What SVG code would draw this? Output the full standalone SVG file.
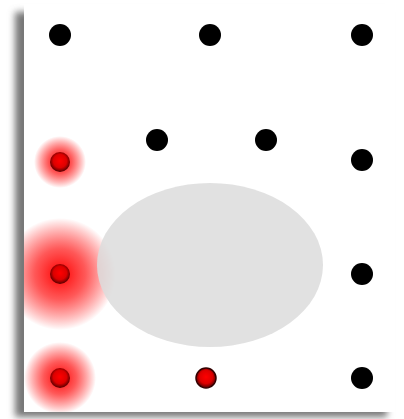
<svg xmlns="http://www.w3.org/2000/svg" width="404" height="419" viewBox="0 0 404 419">
<defs>
<filter id="sh" x="-10%" y="-10%" width="120%" height="120%"><feGaussianBlur stdDeviation="3.5"/></filter>
<clipPath id="panel"><rect x="24" y="4" width="371" height="408"/></clipPath>
<radialGradient id="glow"><stop offset="0" stop-color="#ff0000" stop-opacity="1"/><stop offset="0.45" stop-color="#ff2020" stop-opacity="0.75"/><stop offset="1" stop-color="#ff0000" stop-opacity="0"/></radialGradient>
<radialGradient id="rdot" cx="0.5" cy="0.45" r="0.55"><stop offset="0" stop-color="#ff0000"/><stop offset="0.6" stop-color="#dd0000"/><stop offset="1" stop-color="#500000"/></radialGradient>
</defs>
<style>.dot{fill:#000}.rd{fill:url(#rdot)}.g{fill:url(#glow)}</style>
<rect width="404" height="419" fill="#fff"/>
<rect x="15" y="12" width="372" height="405" fill="#777" filter="url(#sh)"/>
<rect x="24" y="4" width="371" height="408" fill="#fff"/>
<g id="glows" clip-path="url(#panel)">
<circle class="g" cx="60" cy="162" r="26"/>
<circle class="g" cx="60" cy="274" r="56"/>
<circle class="g" cx="60" cy="378" r="36"/>
</g>
<g id="region"><ellipse cx="210" cy="265" rx="113" ry="82" fill="#dcdcdc" fill-opacity="0.85"/></g>
<g id="connectors"></g>
<g id="n1"><circle class="dot" cx="60" cy="35" r="11"/></g>
<g id="n2"><circle class="dot" cx="210" cy="35" r="11"/></g>
<g id="n3"><circle class="dot" cx="362" cy="35" r="11"/></g>
<g id="n4"><circle class="dot" cx="157" cy="140" r="11"/></g>
<g id="n5"><circle class="dot" cx="266" cy="140" r="11"/></g>
<g id="n6"><circle class="rd" cx="60" cy="162" r="10"/></g>
<g id="n7"><circle class="dot" cx="362" cy="160" r="11"/></g>
<g id="n8"><circle class="rd" cx="60" cy="274" r="10"/></g>
<g id="n9"><circle class="dot" cx="362" cy="274" r="11"/></g>
<g id="n10"><circle class="rd" cx="60" cy="378" r="10"/></g>
<g id="n11"><circle class="rd" cx="206" cy="378" r="10" stroke="#300" stroke-width="1.5"/></g>
<g id="n12"><circle class="dot" cx="362" cy="378" r="11"/></g>
</svg>
